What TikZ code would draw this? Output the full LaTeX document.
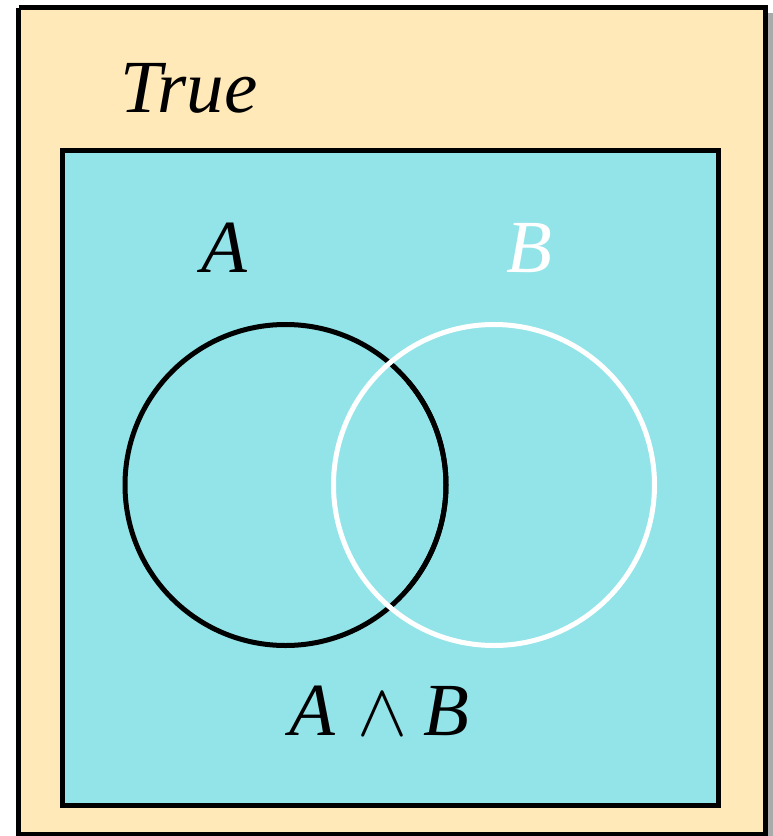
\RequirePackage{fix-cm}
\documentclass[tikz,border=0pt]{standalone}
\usepackage{fontspec}
\setmainfont{Liberation Serif}
\definecolor{beige}{RGB}{255,233,185}
\definecolor{aqua}{RGB}{146,228,233}
\definecolor{shadow}{RGB}{170,170,170}
\begin{document}
\begin{tikzpicture}[x=1pt,y=-1pt,
  frame/.style={draw=black,line width=5pt},
  lbl/.style={inner sep=0pt,anchor=base,font=\fontsize{75}{90}\selectfont\itshape},
  ring/.style={circle,minimum size=321pt,inner sep=0pt,line width=5pt}]
\useasboundingbox (0,0) rectangle (773,836);
\fill[shadow] (23,13) rectangle (773,841);
\fill[beige] (18.5,7.5) rectangle (765.5,836);
\draw[frame] (18.5,7.5) -- (765.5,7.5) -- (765.5,836);
\draw[frame] (18.5,7.5) -- (18.5,836);
\draw[frame] (18.5,834) -- (765.5,834);
\node[draw=black,line width=5pt,fill=aqua,minimum width=656pt,minimum height=655pt,inner sep=0pt] (U) at (390,477.5) {};
\node[ring,draw=black] (ca) at (285.5,485) {};
\node[ring,draw=white] (cb) at (494,485) {};
\draw[black,line width=5pt] (ca.center) ++(0:160.5) arc[start angle=0,end angle=-40,radius=160.5];
\draw[black,line width=5pt] (ca.center) ++(0:160.5) arc[start angle=0,end angle=40,radius=160.5];
\node[lbl,anchor=base west] (t) at (120,112) {True};
\node[lbl] (la) at (224,272) {A};
\node[lbl,text=white] (lb) at (529,272) {B};
\node[lbl] (ab) at (379,735) {A\hspace{22pt}{\upshape$\wedge$}\hspace{16pt}B};
\end{tikzpicture}
\end{document}
